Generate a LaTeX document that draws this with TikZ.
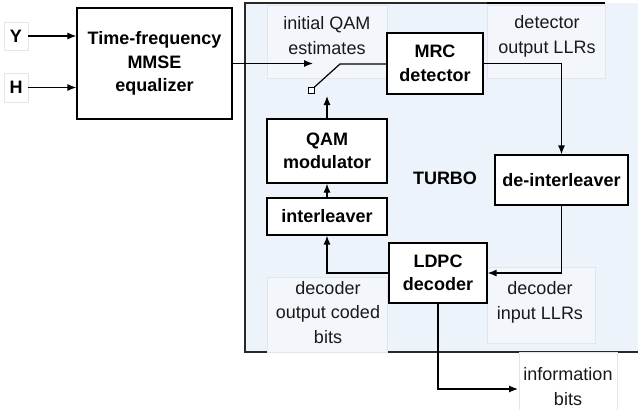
\documentclass[tikz,border=0pt]{standalone}
\usepackage{fontspec}
\setmainfont{Liberation Sans}
\usetikzlibrary{arrows.meta}
\definecolor{turbobg}{RGB}{237,243,250}
\definecolor{lblfill}{RGB}{243,246,250}
\definecolor{lblline}{RGB}{226,230,235}
\definecolor{txt}{RGB}{25,25,25}
\begin{document}
\begin{tikzpicture}[x=1pt,y=-1pt,
  blk/.style={draw=black, line width=1.2pt, fill=white, inner sep=0pt,
    font=\bfseries\fontsize{18}{23.5}\selectfont, align=center, text=black},
  lblbox/.style={draw=lblline, line width=0.8pt, fill=lblfill, inner sep=0pt},
  lbltxt/.style={font=\fontsize{18}{24.5}\selectfont, align=center, text=txt, inner sep=0pt},
  conn/.style={line width=1.2pt, -{Latex[length=9pt,width=7pt]}},
  plain/.style={line width=1.2pt}]
\useasboundingbox (0,0) rectangle (638,410);
% turbo region
\fill[turbobg] (245,3) rectangle (640,352);
\draw[line width=1.2pt, draw={rgb,255:red,40;green,40;blue,40}] (605,3) -- (245,3) -- (245,352) -- (640,352);
\draw[line width=2pt, draw=black] (487,3) -- (605,3);
% label boxes
\node[lblbox, fill=white, minimum width=24pt, minimum height=28pt] (ybox) at (16,36) {};
\node[lblbox, fill=white, minimum width=24pt, minimum height=29pt] (hbox) at (16,87.5) {};
\node[lblbox, minimum width=120pt, minimum height=73pt] (iqbox) at (327,41.5) {};
\node[lblbox, minimum width=118pt, minimum height=73pt] (dobox) at (546,41.5) {};
\node[lblbox, minimum width=120pt, minimum height=75pt] (dcbox) at (327,314.5) {};
\node[lblbox, minimum width=108pt, minimum height=76pt] (dibox) at (541,305) {};
\node[draw=lblline, line width=0.8pt, fill=white, inner sep=0pt, minimum width=98pt, minimum height=58pt] (ibbox) at (568,381) {};
% texts
\node[font=\bfseries\fontsize{18}{22}\selectfont, text=black] (Y) at (ybox) {Y};
\node[font=\bfseries\fontsize{18}{22}\selectfont, text=black] (H) at (hbox) {H};
\node[lbltxt] (iqt) at (327,35.5) {initial QAM\\estimates};
\node[lbltxt] (dot) at (547,36.5) {detector\\output LLRs};
\node[lbltxt] (dct) at (328,312.5) {decoder\\output coded\\bits};
\node[lbltxt] (dit) at (540,302.5) {decoder\\input LLRs};
\node[lbltxt] (ibt) at (568,386.5) {information\\bits};
\node[font=\bfseries\fontsize{18}{22}\selectfont, text=black] (turbo) at (445,178) {TURBO};
% blocks
\node[blk, minimum width=155pt, minimum height=111pt] (eq) at (154.5,63.5) {Time-frequency\\MMSE\\equalizer};
\node[blk, minimum width=96pt, minimum height=61pt] (mrc) at (435,63.5) {MRC\\detector};
\node[blk, minimum width=133pt, minimum height=50pt] (deint) at (561.5,180) {de-interleaver};
\node[blk, minimum width=98pt, minimum height=60pt] (ldpc) at (438,273) {LDPC\\decoder};
\node[blk, minimum width=120pt, minimum height=37pt] (inter) at (327,216.5) {interleaver};
\node[blk, minimum width=120pt, minimum height=64pt] (qam) at (327,151) {QAM\\modulator};
% switch
\node[draw=black, line width=0.9pt, fill=white, minimum size=6pt, inner sep=0pt] (sw) at (311,90.5) {};
\coordinate (pivot) at (340,64);
\coordinate (swin) at (313,63.5);
\coordinate (qamtip) at (327,96);
\coordinate (infotip) at (518,389);
% connectors
\draw[conn] (Y.east -| ybox.east) -- (Y.east -| eq.west);
\draw[conn] (H.east -| hbox.east) -- (H.east -| eq.west);
\draw[conn] (eq.east) -- (swin);
\draw[plain] (sw.north east) -- (pivot) -- (pivot -| mrc.west);
\draw[conn] (qam.north) -- (qamtip);
\draw[conn] (mrc.east) -| (deint.north);
\draw[conn] (deint.south) |- (ldpc.east);
\draw[conn] (ldpc.west) -| (inter.south);
\draw[conn] (inter.north) -- (qam.south);
\draw[conn] (ldpc.south) |- (infotip);
\end{tikzpicture}
\end{document}
